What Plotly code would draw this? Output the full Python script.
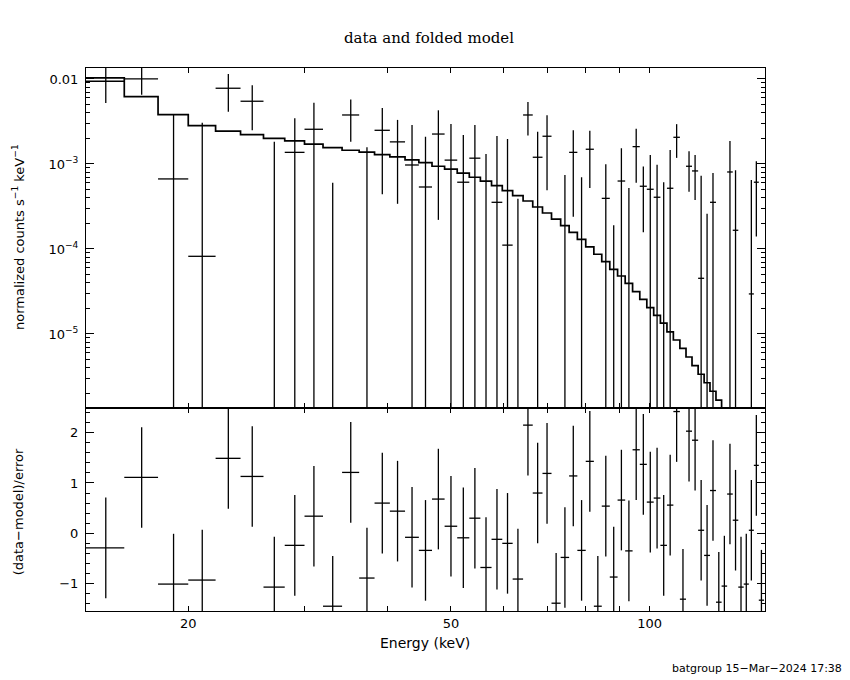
import numpy as np
import plotly.graph_objects as go
from plotly.subplots import make_subplots

# Limites dos canais de energia (keV)
bin_edges = [14.0, 16.0, 18.0, 20.0, 22.0, 24.0, 26.0, 28.0, 30.0, 32.0,
             34.2, 36.3, 38.3, 40.4, 42.6, 44.7, 46.8, 48.9, 51.1, 53.3,
             55.4, 57.6, 59.8, 62.0, 64.3, 66.5, 68.8, 71.0, 73.3, 75.5,
             77.7, 80.0, 82.3, 84.6, 87.0, 89.4, 91.8, 94.2, 96.6, 99.0,
             101.4, 103.8, 106.2, 108.6, 111.1, 113.5, 115.9, 118.4, 120.9, 123.4,
             126.0, 128.5, 131.0, 133.6, 136.2, 138.8, 141.3, 143.8, 146.3, 149.0]

# Taxa normalizada (counts s^-1 keV^-1) e erro 1-sigma
rate = [9.4e-3, 1.0e-2, 6.67e-4, 8.2e-5, 7.78e-3, 5.47e-3, -7.8e-4, 1.37e-3, 2.56e-3, -1.54e-3,
        3.77e-3, -1.3e-4, 2.49e-3, 1.82e-3, 9.73e-4, 5.36e-4, 2.25e-3, 1.11e-3, 6.1e-4, 1.17e-3,
        -7.9e-4, 3.54e-4, 1.11e-4, -1.41e-3, 3.77e-3, 1.2e-3, 2.12e-3, -2.0e-3, -7.6e-4, 1.37e-3,
        -8.0e-4, 1.49e-3, -2.0e-3, 3.94e-4, -8.1e-4, 6.3e-4, -4.8e-4, 1.6e-3, 5.47e-4, 5.04e-4,
        4.06e-4, -9.0e-5, 5.18e-4, 2.06e-3, -1.5e-3, 9.4e-4, 8.28e-4, 4.52e-5, -4.4e-4, 3.54e-4,
        -1.5e-3, -1.2e-3, 8.05e-4, 1.66e-4, -1.3e-3, -1.2e-3, 2.96e-5, 6.1e-4, -1.5e-3]
rate_err = [4.2e-3, 3.47e-3, 3.1e-3, 2.98e-3, 3.67e-3, 2.98e-3, 2.6e-3, 2.08e-3, 2.7e-3, 2.14e-3,
            1.95e-3, 1.7e-3, 2.05e-3, 1.48e-3, 1.9e-3, 1.56e-3, 2.03e-3, 1.85e-3, 1.58e-3, 1.71e-3,
            2.1e-3, 1.78e-3, 1.86e-3, 1.8e-3, 1.6e-3, 1.2e-3, 1.63e-3, 1.5e-3, 1.5e-3, 1.13e-3,
            1.5e-3, 9.7e-4, 1.3e-3, 6.0e-4, 1.0e-3, 9.0e-4, 1.0e-3, 1.0e-3, 3.9e-4, 7.7e-4,
            5.7e-4, 7.0e-4, 9.4e-4, 8.8e-4, 9.0e-4, 4.7e-4, 4.5e-4, 6.8e-4, 7.0e-4, 4.3e-4,
            6.0e-4, 6.0e-4, 1.06e-3, 6.8e-4, 6.0e-4, 6.0e-4, 6.2e-4, 4.7e-4, 6.0e-4]

# Modelo dobrado pela resposta
model = [1.03e-2, 6.19e-3, 3.8e-3, 2.83e-3, 2.44e-3, 2.21e-3, 2.0e-3, 1.87e-3, 1.71e-3, 1.56e-3,
         1.45e-3, 1.38e-3, 1.29e-3, 1.21e-3, 1.12e-3, 1.04e-3, 9.4e-4, 8.7e-4, 7.8e-4, 6.98e-4,
         6.3e-4, 5.55e-4, 4.86e-4, 4.24e-4, 3.67e-4, 3.12e-4, 2.65e-4, 2.25e-4, 1.88e-4, 1.57e-4,
         1.3e-4, 1.06e-4, 8.67e-5, 7.1e-5, 5.77e-5, 4.81e-5, 3.94e-5, 3.15e-5, 2.56e-5, 2.04e-5,
         1.66e-5, 1.34e-5, 1.06e-5, 8.5e-6, 6.79e-6, 5.36e-6, 4.24e-6, 3.36e-6, 2.67e-6, 2.12e-6,
         1.67e-6, 1.3e-6, 1.0e-6, 7.8e-7, 6.0e-7, 4.6e-7, 3.5e-7, 2.7e-7, 2.0e-7]

# Resíduos (data-model)/error
resid = [-0.29, 1.11, -1.01, -0.93, 1.49, 1.13, -1.07, -0.24, 0.34, -1.45,
         1.21, -0.89, 0.60, 0.44, -0.08, -0.34, 0.68, 0.14, -0.09, 0.30,
         -0.68, -0.12, -0.20, -0.91, 2.15, 0.80, 1.19, -1.39, -0.48, 1.14,
         -0.34, 1.43, -1.45, 0.54, -0.87, 0.66, -0.35, 1.66, 1.37, 0.62,
         0.70, -0.24, 0.56, 2.42, -1.31, 2.03, 1.85, 0.06, -0.44, 0.85,
         -1.37, -1.05, 0.78, 0.26, -1.07, -1.01, 0.06, 1.35, -1.33]

y_tick_vals = [0.01, 1e-3, 1e-4, 1e-5]
y_tick_text = ['0.01', '10<sup>\u22123</sup>', '10<sup>\u22124</sup>', '10<sup>\u22125</sup>']
x_tick_vals = [20, 50, 100]
x_tick_text = ['20', '50', '100']

n = len(rate)
floor_val = 1e-8

# Cruzes dos dados (painel superior)
dx, dy = [], []
for i in range(n):
    lo, hi = bin_edges[i], bin_edges[i + 1]
    mid = 0.5 * (lo + hi)
    top = rate[i] + rate_err[i]
    if top <= 0:
        continue
    bot = rate[i] - rate_err[i]
    dx += [mid, mid, None]
    dy += [max(bot, floor_val), top, None]
    if rate[i] > 0:
        dx += [lo, hi, None]
        dy += [rate[i], rate[i], None]

# Cruzes dos resíduos
rx, ry = [], []
for i in range(n):
    lo, hi = bin_edges[i], bin_edges[i + 1]
    mid = 0.5 * (lo + hi)
    rx += [mid, mid, None, lo, hi, None]
    ry += [resid[i] - 1, resid[i] + 1, None, resid[i], resid[i], None]

fig = make_subplots(rows=2, cols=1, shared_xaxes=True, vertical_spacing=0,
                    row_heights=[0.6262, 0.3738])

fig.add_trace(go.Scatter(x=dx, y=dy, mode='lines', line=dict(color='black', width=1.3),
                         hoverinfo='skip', showlegend=False), row=1, col=1)
fig.add_trace(go.Scatter(x=bin_edges, y=model + [model[-1]], mode='lines', line_shape='hv',
                         line=dict(color='black', width=1.7), showlegend=False), row=1, col=1)

fig.add_hline(y=0, row=2, col=1, line_color='rgb(60,215,60)', line_width=1, layer='below')
fig.add_trace(go.Scatter(x=rx, y=ry, mode='lines', line=dict(color='black', width=1.3),
                         hoverinfo='skip', showlegend=False), row=2, col=1)

tick_font = dict(family='DejaVu Sans', size=13, color='black')
axis_common = dict(showline=True, linecolor='black', linewidth=1, mirror='allticks',
                   ticks='inside', tickcolor='black', showgrid=False, zeroline=False,
                   tickfont=tick_font)

x_minor = [30, 40, 60, 70, 80, 90]
fig.update_xaxes(type='log', range=[np.log10(14.0), np.log10(149.5)],
                 tickvals=x_tick_vals, ticktext=x_tick_text, ticklen=5,
                 minor=dict(tickvals=x_minor, ticklen=5, ticks='inside', tickcolor='black'),
                 **axis_common)
fig.update_xaxes(showticklabels=False, row=1, col=1)

y_minor = [k * 10.0 ** e for e in range(-6, -1) for k in range(2, 10)]
fig.update_yaxes(type='log', range=[np.log10(1.346e-6), np.log10(0.01346)],
                 tickvals=y_tick_vals, ticktext=y_tick_text, ticklen=8,
                 ticklabelstandoff=4,
                 minor=dict(tickvals=y_minor, ticklen=4, ticks='inside', tickcolor='black'),
                 row=1, col=1, **axis_common)
fig.update_yaxes(range=[-1.545, 2.49], tickvals=[-1, 0, 1, 2], ticklen=8,
                 ticklabelstandoff=4,
                 minor=dict(dtick=0.2, tick0=0, ticklen=4, ticks='inside', tickcolor='black'),
                 row=2, col=1, **axis_common)

lab_font = dict(family='DejaVu Sans', size=14, color='black')
side_font = dict(family='DejaVu Sans', size=13, color='black')
fig.add_annotation(text='Energy (keV)', x=0.4993, y=-0.059, xref='paper', yref='paper',
                   showarrow=False, font=lab_font, yanchor='middle')
fig.add_annotation(text='normalized counts s<sup>\u22121</sup> keV<sup>\u22121</sup>',
                   x=-0.1, y=0.689, xref='paper', yref='paper', textangle=-90,
                   showarrow=False, font=side_font, xanchor='center', yanchor='middle')
fig.add_annotation(text='(data\u2212model)/error', x=-0.1, y=0.182, xref='paper', yref='paper',
                   textangle=-90, showarrow=False, font=side_font,
                   xanchor='center', yanchor='middle')
fig.add_annotation(text='batgroup 15\u2212Mar\u22122024 17:38', x=1.116, y=-0.105,
                   xref='paper', yref='paper', showarrow=False, xanchor='right',
                   yanchor='middle', font=dict(family='DejaVu Sans', size=11, color='black'))

# A página tem margem de 8 px no corpo: a figura é reduzida para caber na janela
fig.update_layout(
    width=842, height=672,
    margin=dict(l=78, r=85, t=60, b=69),
    paper_bgcolor='white', plot_bgcolor='white',
    title=dict(text='data and folded model', x=0.5, xref='container', y=0.955,
               yref='container', xanchor='center', yanchor='middle',
               font=dict(family='DejaVu Serif', size=15, color='black')),
    showlegend=False,
)

fig.write_html("out.html")
